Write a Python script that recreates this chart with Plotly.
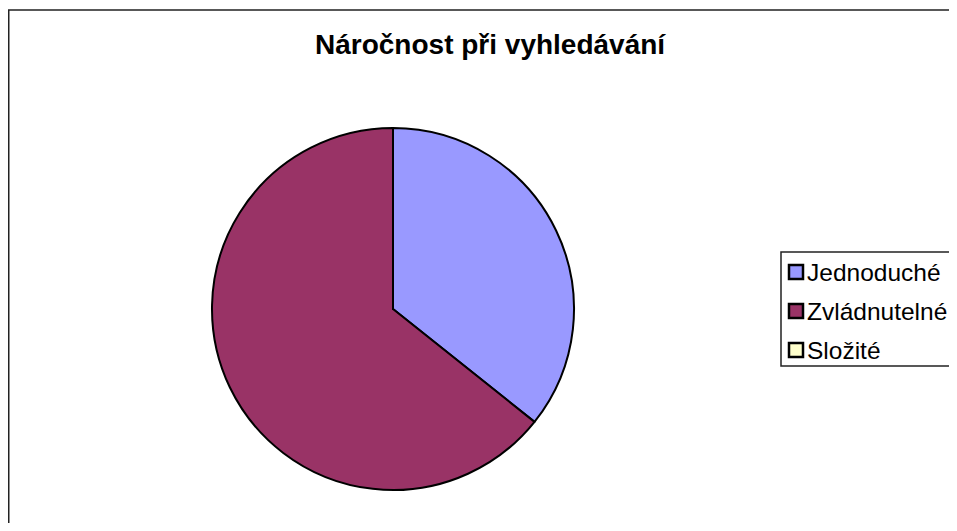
import plotly.graph_objects as go

# Data
categories = ["Jednoduché", "Zvládnutelné", "Složité"]
values = [5, 9, 0]
colors = ["#9999FF", "#993366", "#FFFFCC"]
title_text = "Náročnost při vyhledávání"

# Figure is drawn at an 8px page offset (body margin), so keep it inside the window
W, H = 941, 515

def px(x):
    return x / W

def py(y):
    return 1 - y / H

FONT = "Liberation Sans, Arial, sans-serif"

# Pie geometry (figure pixels)
cx, cy, r = 385, 301, 181

fig = go.Figure()
fig.add_trace(go.Pie(
    labels=categories,
    values=values,
    marker=dict(colors=colors, line=dict(color="black", width=2)),
    sort=False,
    direction="clockwise",
    rotation=0,
    textinfo="none",
    hoverinfo="label+value+percent",
    showlegend=False,
    domain=dict(x=[px(cx - r), px(cx + r)], y=[py(cy + r), py(cy - r)]),
))

shapes = []
annotations = []

# Outer chart frame (extends beyond the visible area on right/bottom)
shapes.append(dict(type="rect", xref="paper", yref="paper",
                   x0=px(0.75), x1=px(W + 30), y0=py(H + 30), y1=py(2),
                   line=dict(color="#222222", width=1.5), fillcolor="rgba(0,0,0,0)"))

# Legend box
shapes.append(dict(type="rect", xref="paper", yref="paper",
                   x0=px(773), x1=px(W + 30), y0=py(358), y1=py(244),
                   line=dict(color="#222222", width=1.5), fillcolor="white"))

row_y = [264, 303, 342]
for lab, col, yy in zip(categories, colors, row_y):
    shapes.append(dict(type="rect", xref="paper", yref="paper",
                       x0=px(781), x1=px(795), y0=py(yy + 7), y1=py(yy - 7),
                       line=dict(color="black", width=2.5), fillcolor=col))
    annotations.append(dict(text=lab, xref="paper", yref="paper",
                            x=px(797), y=py(yy), xanchor="left", yanchor="middle",
                            showarrow=False,
                            font=dict(family=FONT, size=24.5, color="black")))

annotations.append(dict(text="<b>" + title_text + "</b>", xref="paper", yref="paper",
                        x=px(482), y=py(36), xanchor="center", yanchor="middle",
                        showarrow=False,
                        font=dict(family=FONT, size=28, color="black")))

fig.update_layout(
    width=W, height=H,
    margin=dict(l=0, r=0, t=0, b=0),
    paper_bgcolor="white",
    plot_bgcolor="white",
    shapes=shapes,
    annotations=annotations,
    showlegend=False,
)

fig.write_html("out.html")
